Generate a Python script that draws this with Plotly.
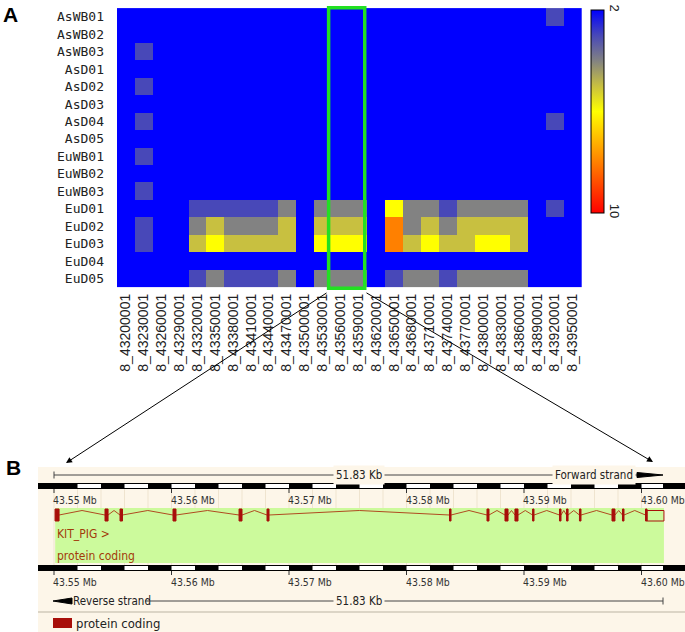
import numpy as np
import plotly.graph_objects as go

# ---- panel A data: depth class per sample and 30 kb window ----
samples = ["AsWB01", "AsWB02", "AsWB03", "AsD01", "AsD02", "AsD03", "AsD04", "AsD05",
           "EuWB01", "EuWB02", "EuWB03", "EuD01", "EuD02", "EuD03", "EuD04", "EuD05"]
windows = ["8_43200001", "8_43230001", "8_43260001", "8_43290001", "8_43320001",
           "8_43350001", "8_43380001", "8_43410001", "8_43440001", "8_43470001",
           "8_43500001", "8_43530001", "8_43560001", "8_43590001", "8_43620001",
           "8_43650001", "8_43680001", "8_43710001", "8_43740001", "8_43770001",
           "8_43800001", "8_43830001", "8_43860001", "8_43890001", "8_43920001",
           "8_43950001"]
values = [
    [2, 2, 2, 2, 2, 2, 2, 2, 2, 2, 2, 2, 2, 2, 2, 2, 2, 2, 2, 2, 2, 2, 2, 2, 3, 2],
    [2, 2, 2, 2, 2, 2, 2, 2, 2, 2, 2, 2, 2, 2, 2, 2, 2, 2, 2, 2, 2, 2, 2, 2, 2, 2],
    [2, 3, 2, 2, 2, 2, 2, 2, 2, 2, 2, 2, 2, 2, 2, 2, 2, 2, 2, 2, 2, 2, 2, 2, 2, 2],
    [2, 2, 2, 2, 2, 2, 2, 2, 2, 2, 2, 2, 2, 2, 2, 2, 2, 2, 2, 2, 2, 2, 2, 2, 2, 2],
    [2, 3, 2, 2, 2, 2, 2, 2, 2, 2, 2, 2, 2, 2, 2, 2, 2, 2, 2, 2, 2, 2, 2, 2, 2, 2],
    [2, 2, 2, 2, 2, 2, 2, 2, 2, 2, 2, 2, 2, 2, 2, 2, 2, 2, 2, 2, 2, 2, 2, 2, 2, 2],
    [2, 3, 2, 2, 2, 2, 2, 2, 2, 2, 2, 2, 2, 2, 2, 2, 2, 2, 2, 2, 2, 2, 2, 2, 3, 2],
    [2, 2, 2, 2, 2, 2, 2, 2, 2, 2, 2, 2, 2, 2, 2, 2, 2, 2, 2, 2, 2, 2, 2, 2, 2, 2],
    [2, 3, 2, 2, 2, 2, 2, 2, 2, 2, 2, 2, 2, 2, 2, 2, 2, 2, 2, 2, 2, 2, 2, 2, 2, 2],
    [2, 2, 2, 2, 2, 2, 2, 2, 2, 2, 2, 2, 2, 2, 2, 2, 2, 2, 2, 2, 2, 2, 2, 2, 2, 2],
    [2, 3, 2, 2, 2, 2, 2, 2, 2, 2, 2, 2, 2, 2, 2, 2, 2, 2, 2, 2, 2, 2, 2, 2, 2, 2],
    [2, 2, 2, 2, 3, 3, 3, 3, 3, 4, 2, 4, 4, 4, 2, 6, 4, 4, 3, 4, 4, 4, 4, 2, 3, 2],
    [2, 3, 2, 2, 4, 5, 4, 4, 4, 5, 2, 5, 5, 5, 2, 8, 4, 5, 4, 5, 5, 5, 5, 2, 2, 2],
    [2, 3, 2, 2, 5, 6, 5, 5, 5, 5, 2, 6, 6, 6, 2, 8, 5, 6, 5, 5, 6, 6, 5, 2, 2, 2],
    [2, 2, 2, 2, 2, 2, 2, 2, 2, 2, 2, 2, 2, 2, 2, 2, 2, 2, 2, 2, 2, 2, 2, 2, 2, 2],
    [2, 2, 2, 2, 3, 4, 3, 3, 3, 4, 2, 4, 4, 4, 2, 3, 4, 4, 3, 4, 4, 4, 4, 2, 2, 2],
]
color_min, color_max = 2, 10

# ---- panel B data: KIT gene model (Mb) ----
region_start = 43.55
span_kb = 51.83
region_end = region_start + span_kb / 1000
mb_ticks = [43.55, 43.56, 43.57, 43.58, 43.59, 43.60]
gene_start, gene_end = 43.5501, 43.60191
gene_name = "KIT_PIG >"
biotype = "protein coding"
exon_starts = [43.55009, 43.55434, 43.55562, 43.56013, 43.56575, 43.56813, 43.58366,
               43.58685, 43.58838, 43.58923, 43.59073, 43.59302, 43.59362, 43.59472,
               43.59749, 43.59838, 43.60034]
exon_ends = [43.55043, 43.55460, 43.55583, 43.56038, 43.56600, 43.56830, 43.58379,
             43.58702, 43.58864, 43.58949, 43.59085, 43.59315, 43.59375, 43.59485,
             43.59774, 43.59851, 43.60047]
utr_start, utr_end = 43.60047, 43.60191

# ---- layout helpers (pixel placement) ----
W, H = 685, 632
MB_PER_PX = 0.01 / 117.5
X0_PX = 54  # pixel column of region_start


def px(col):
    return region_start + (col - X0_PX) * MB_PER_PX


beige = "#fdf6e9"
exon_red = "#a80f0a"
text_red = "#a33a0a"
cond = "DejaVu Sans Condensed, DejaVu Sans, sans-serif"

fig = go.Figure()

# heatmap; colour axis is flipped so 2 sits on top of the bar as in the source
neg = -np.array(values)
fig.add_trace(go.Heatmap(
    z=neg, x=windows, y=samples,
    zmin=-color_max, zmax=-color_min,
    colorscale=[[0, "#ff0000"], [0.25, "#ff8000"], [0.5, "#ffff00"],
                [0.625, "#c8c040"], [0.75, "#828282"], [0.875, "#4848b8"],
                [1, "#0000ff"]],
    customdata=np.array(values),
    hovertemplate="%{y} %{x}: %{customdata}<extra></extra>",
    colorbar=dict(
        x=591 / W, xanchor="left", y=1 - 10 / H, yanchor="top",
        len=203 / H, lenmode="fraction", thickness=13, thicknessmode="pixels",
        outlinewidth=1, outlinecolor="black", xpad=0, ypad=0,
        tickvals=[-color_min, -color_max],
        ticktext=[str(color_min), str(color_max)],
        tickangle=90, ticks="", tickfont=dict(family="Liberation Sans, Arial", size=13, color="#222"),
    ),
    xaxis="x", yaxis="y",
))

# intron lines (hat shape between exons)
ix, iy = [], []
for a, b in zip(exon_ends[:-1], exon_starts[1:]):
    ix += [a, (a + b) / 2, b, None]
    iy += [515, 510.5, 515, None]
fig.add_trace(go.Scatter(x=ix, y=iy, mode="lines", line=dict(color="#b04a20", width=1),
                         hoverinfo="skip", xaxis="x2", yaxis="y2"))

shapes = []
annotations = []

# green box over the gene window in panel A
shapes.append(dict(type="rect", xref="x", yref="y", x0=11.34, x1=13.36, y0=-0.52, y1=15.56,
                   line=dict(color="#22e022", width=3.5)))

# panel B background
xr0, xr1 = px(0), px(W)
shapes.append(dict(type="rect", xref="x2", yref="y2", x0=px(38), x1=xr1, y0=467, y1=H,
                   fillcolor=beige, line_width=0, layer="below"))
# faint grid between the scale bars
for g in np.arange(region_start, region_end, 0.002):
    shapes.append(dict(type="line", xref="x2", yref="y2", x0=g, x1=g, y0=489, y1=565,
                       line=dict(color="#efe4cf", width=1), layer="below"))
# gene body
shapes.append(dict(type="rect", xref="x2", yref="y2", x0=gene_start, x1=gene_end, y0=508, y1=563,
                   fillcolor="#ccfa9c", line_width=0, layer="below"))

# scale bars (black strip with white alternate 2 kb blocks)
for y0, y1 in [(483, 489), (565, 571)]:
    shapes.append(dict(type="rect", xref="x2", yref="y2", x0=px(38), x1=xr1, y0=y0, y1=y1,
                       fillcolor="black", line_width=0))
    k = 0
    for s in np.arange(region_start, region_end, 0.002):
        if k % 2 == 1:
            shapes.append(dict(type="rect", xref="x2", yref="y2", x0=s, x1=min(s + 0.002, region_end),
                               y0=y0 + 1, y1=y1 - 1, fillcolor="white", line_width=0))
        k += 1
    for t in mb_ticks:
        shapes.append(dict(type="line", xref="x2", yref="y2", x0=t, x1=t, y0=y1, y1=y1 + 4,
                           line=dict(color="#333", width=1)))

# tick labels
for t in mb_ticks:
    for yy in (500, 582):
        annotations.append(dict(xref="x2", yref="y2", x=t, y=yy, text=f"{t:.2f} Mb",
                                showarrow=False, xanchor="left", yanchor="middle", xshift=-3,
                                font=dict(family=cond, size=10.4, color="#333")))

# exons and UTR
for a, b in zip(exon_starts, exon_ends):
    shapes.append(dict(type="rect", xref="x2", yref="y2", x0=a, x1=b, y0=509, y1=521,
                       fillcolor=exon_red, line=dict(color=exon_red, width=1)))
shapes.append(dict(type="rect", xref="x2", yref="y2", x0=utr_start, x1=utr_end, y0=510.5, y1=521,
                   fillcolor="rgba(0,0,0,0)", line=dict(color=exon_red, width=1)))

annotations.append(dict(xref="x2", yref="y2", x=gene_start, y=534, text=gene_name, showarrow=False,
                        xanchor="left", yanchor="middle", font=dict(family=cond, size=12, color=text_red)))
annotations.append(dict(xref="x2", yref="y2", x=gene_start, y=556, text=biotype, showarrow=False,
                        xanchor="left", yanchor="middle", font=dict(family=cond, size=12, color=text_red)))

# strand / length lines
mid = (region_start + region_end) / 2
span_txt = f"{span_kb:.2f} Kb"
line_c = "#444"
# forward (top)
shapes.append(dict(type="line", xref="x2", yref="y2", x0=region_start, x1=px(637), y0=475, y1=475,
                   line=dict(color=line_c, width=1)))
shapes.append(dict(type="line", xref="x2", yref="y2", x0=region_start, x1=region_start, y0=471.5, y1=478.5,
                   line=dict(color=line_c, width=1)))
shapes.append(dict(type="path", xref="x2", yref="y2",
                   path=f"M {px(637)} 472.5 L {region_end} 475 L {px(637)} 477.5 Z",
                   fillcolor="black", line=dict(color="black", width=1)))
annotations.append(dict(xref="x2", yref="y2", x=mid, y=475, text=span_txt, showarrow=False,
                        bgcolor=beige, borderpad=2, font=dict(family=cond, size=11.5, color="#222")))
annotations.append(dict(xref="x2", yref="y2", x=px(636), y=475, text="Forward strand", showarrow=False,
                        xanchor="right", bgcolor=beige, borderpad=2,
                        font=dict(family=cond, size=11.5, color="#222")))
# reverse (bottom)
shapes.append(dict(type="line", xref="x2", yref="y2", x0=px(145), x1=region_end, y0=601, y1=601,
                   line=dict(color=line_c, width=1)))
shapes.append(dict(type="line", xref="x2", yref="y2", x0=region_end, x1=region_end, y0=597.5, y1=604.5,
                   line=dict(color=line_c, width=1)))
shapes.append(dict(type="path", xref="x2", yref="y2",
                   path=f"M {px(72)} 598 L {px(53)} 601 L {px(72)} 604 Z",
                   fillcolor="black", line=dict(color="black", width=1)))
annotations.append(dict(xref="x2", yref="y2", x=px(71), y=601, text="Reverse strand", showarrow=False,
                        xanchor="left", font=dict(family=cond, size=11.5, color="#222")))
annotations.append(dict(xref="x2", yref="y2", x=mid, y=601, text=span_txt, showarrow=False,
                        bgcolor=beige, borderpad=2, font=dict(family=cond, size=11.5, color="#222")))

# legend
shapes.append(dict(type="line", xref="x2", yref="y2", x0=px(38), x1=xr1, y0=612, y1=612,
                   line=dict(color="#dcd5c6", width=2)))
shapes.append(dict(type="rect", xref="x2", yref="y2", x0=px(53), x1=px(72), y0=618, y1=628,
                   fillcolor=exon_red, line_width=0))
annotations.append(dict(xref="x2", yref="y2", x=px(74), y=623, text=biotype, showarrow=False,
                        xanchor="left", font=dict(family=cond, size=13, color="#222")))

# panel letters
annotations.append(dict(xref="paper", yref="paper", x=1 / W, y=1 - 1 / H, text="<b>A</b>", showarrow=False,
                        xanchor="left", yanchor="top", font=dict(family="Liberation Sans, Arial", size=21, color="black")))
annotations.append(dict(xref="paper", yref="paper", x=4 / W, y=1 - 454 / H, text="<b>B</b>", showarrow=False,
                        xanchor="left", yanchor="top", font=dict(family="Liberation Sans, Arial", size=21, color="black")))

# zoom arrows from the boxed windows to the gene view
for tip, tail in [((66, 463), (328, 292)), ((653, 462), (365, 292))]:
    annotations.append(dict(xref="paper", yref="paper", x=tip[0] / W, y=1 - tip[1] / H, text="",
                            showarrow=True, ax=tail[0] - tip[0], ay=tail[1] - tip[1],
                            arrowhead=2, arrowsize=1.2, arrowwidth=1, arrowcolor="black"))

fig.update_layout(
    width=W, height=H,
    margin=dict(l=0, r=0, t=0, b=0),
    paper_bgcolor="white", plot_bgcolor="rgba(0,0,0,0)",
    showlegend=False,
    xaxis=dict(domain=[117 / W, 581.7 / W], anchor="y", tickangle=-90, tickmode="array",
               tickvals=windows, showgrid=False, zeroline=False, ticks="",
               tickfont=dict(family="Liberation Sans, Arial", size=14, color="#222")),
    yaxis=dict(domain=[1 - 290 / H, 1 - 6 / H], anchor="x", autorange="reversed",
               tickmode="array", tickvals=samples, showgrid=False, zeroline=False, ticks="",
               ticklabelstandoff=12,
               tickfont=dict(family="DejaVu Sans Mono", size=13, color="#222")),
    xaxis2=dict(domain=[0, 1], anchor="y2", range=[xr0, xr1], visible=False),
    yaxis2=dict(domain=[0, 1 - 460 / H], anchor="x2", range=[H, 460], visible=False),
    shapes=shapes,
    annotations=annotations,
)

# page body margin would push the fixed-size figure off the window
fig.write_html("out.html", config={"displayModeBar": False},
               post_script="document.body.style.margin='0';")
